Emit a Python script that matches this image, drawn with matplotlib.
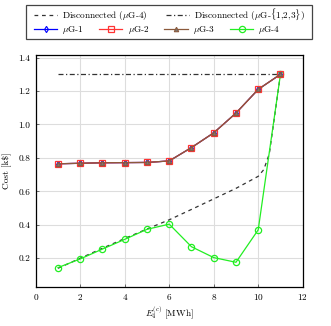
import matplotlib
matplotlib.use("Agg")
import matplotlib.pyplot as plt
from matplotlib.patches import Rectangle
from matplotlib.lines import Line2D

plt.rcParams['font.family'] = ['cmr10', 'DejaVu Serif']
plt.rcParams['mathtext.fontset'] = 'cm'
plt.rcParams['axes.formatter.use_mathtext'] = True

x = [1, 2, 3, 4, 5, 6, 7, 8, 9, 10, 11]
cost_mg123 = [0.765, 0.768, 0.771, 0.772, 0.773, 0.782, 0.862, 0.950, 1.068, 1.210, 1.300]
cost_mg4 = [0.144, 0.196, 0.255, 0.313, 0.373, 0.404, 0.269, 0.204, 0.176, 0.370, 1.300]
x_disc4 = [1, 2, 3, 4, 5, 6, 7, 8, 9, 10, 10.25, 10.5, 11]
cost_disc4 = [0.140, 0.200, 0.260, 0.318, 0.375, 0.430, 0.492, 0.555, 0.618, 0.690, 0.730, 0.825, 1.300]
cost_disc123 = [1.300] * len(x)
xticks = [0, 2, 4, 6, 8, 10, 12]
yticks = [0.2, 0.4, 0.6, 0.8, 1.0, 1.2, 1.4]

fig = plt.figure(figsize=(3.31, 3.26), dpi=100)
ax = fig.add_axes([0.108, 0.1206, 0.8065, 0.7094])

fs = 6.7
ax.plot(x_disc4, cost_disc4, ls=(0, (3, 3)), color='#333333', lw=0.9, zorder=3)
ax.plot(x, cost_disc123, ls=(0, (4, 2, 1, 2)), color='#333333', lw=0.9, zorder=3)
l1, = ax.plot(x, cost_mg123, color='blue', marker='d', ms=3.2, mfc='none', mew=0.8, lw=0.9, zorder=4)
l2, = ax.plot(x, cost_mg123, color='#ff3333', marker='s', ms=4.2, mfc='none', mew=0.9, lw=0.9, zorder=5)
l3, = ax.plot(x, cost_mg123, color='#8b5a3c', marker='^', ms=3.2, mfc='#777777', mew=0.8, lw=0.9, zorder=6)
l4, = ax.plot(x, cost_mg4, color='#22ee22', marker='o', ms=4.5, mfc='none', mew=0.9, lw=0.9, zorder=4)

ax.set_xlim(0, 12)
ax.set_ylim(0.03, 1.413)
ax.set_xticks(xticks)
ax.set_yticks(yticks)
ax.set_yticklabels([f"{v:.1f}" for v in yticks])
ax.grid(True, color='#dddddd', lw=0.8)
ax.set_axisbelow(True)
ax.tick_params(labelsize=fs, direction='in', length=2.5, width=0.6, color='#555555', pad=4)
for s in ax.spines.values():
    s.set_linewidth(0.9)
ax.set_ylabel('Cost [k\\$]', fontsize=fs, labelpad=5)
ax.set_xlabel('$E_4^{(c)}$ [MWh]', fontsize=fs, labelpad=2)

# legend box
fig.patches.append(Rectangle((26/331, 1 - 38.5/326), (311.5 - 26)/331, (38.5 - 4.5)/326,
                             transform=fig.transFigure, fill=False, ec='#444444', lw=0.9))
h_d4 = Line2D([], [], ls=(0, (3, 3)), color='#333333', lw=0.9)
h_d123 = Line2D([], [], ls=(0, (4, 2, 1, 2)), color='#333333', lw=0.9)
leg1 = fig.legend([h_d4, h_d123], ['Disconnected ($\\mu$G-4)', 'Disconnected ($\\mu$G-$\\{$1,2,3$\\}$)'],
                  ncol=2, frameon=False, fontsize=fs, loc='center left',
                  bbox_to_anchor=(34/331, 1 - 14.5/326), handlelength=2.5, columnspacing=1.9,
                  handletextpad=0.55, borderpad=0, borderaxespad=0)
leg2 = fig.legend([l1, l2, l3, l4], ['$\\mu$G-1', '$\\mu$G-2', '$\\mu$G-3', '$\\mu$G-4'],
                  ncol=4, frameon=False, fontsize=fs, loc='center left',
                  bbox_to_anchor=(34/331, 1 - 30/326), handlelength=2.5, columnspacing=1.6,
                  handletextpad=0.55, borderpad=0, borderaxespad=0)

fig.savefig('out.png', dpi=100)
